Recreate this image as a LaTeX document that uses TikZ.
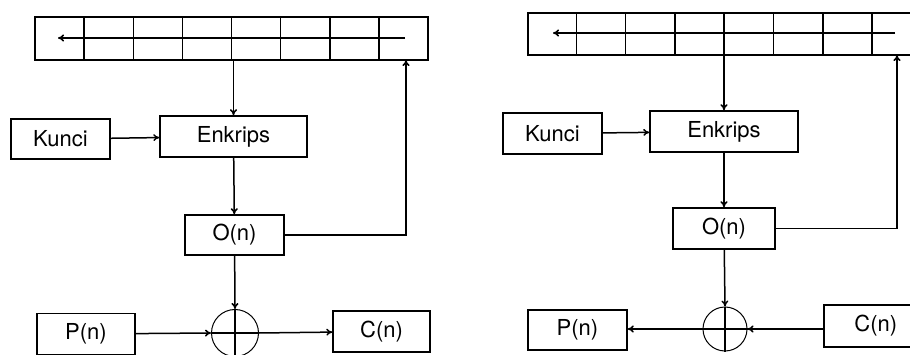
\documentclass[tikz,border=0pt]{standalone}
\usepackage{fontspec}
\setmainfont{TeX Gyre Heros}
\usetikzlibrary{arrows.meta}

\begin{document}
\begin{tikzpicture}[x=1pt,y=-1pt,line width=1.5pt,
    >={To[length=6pt,width=7pt]},
    box/.style={draw,black,rectangle,inner sep=0pt,font=\fontsize{22}{26}\selectfont},
    xorop/.style={draw,black,circle,line width=1pt,minimum size=47pt,inner sep=0pt}]
      \clip (0,0) rectangle (910,355);
      % mode kiri
      \node [box,minimum width=393pt,minimum height=43pt] (reg1) at (231.5,38.5) {};
      \foreach \i in {1,...,7}
        \draw [-,black] (35+\i*49.125,17) -- (35+\i*49.125,60);
      \coordinate (in1) at (405,38);
      \coordinate (out1) at (58,38);
      \draw [->,black] (in1) -- (out1);
      \node [box,minimum width=99pt,minimum height=40pt] (kunci1) at (60.5,139) {Kunci};
      \node [box,minimum width=147pt,minimum height=41pt] (enk1) at (233.5,136.5) {Enkrips};
      \node [box,minimum width=99pt,minimum height=40pt] (on1) at (234.5,235) {O(n)};
      \node [xorop] (xor1) at (235,333) {};
      \node [box,minimum width=98pt,minimum height=41pt] (pn1) at (86,334) {P(n)};
      \node [box,minimum width=97pt,minimum height=41pt] (cn1) at (381.5,331.5) {C(n)};
      \coordinate (fb1) at (406,60);
      \draw [->,black] (reg1.south -| enk1.north) -- (enk1.north);
      \draw [->,black] (kunci1) -- (enk1);
      \draw [->,black] (enk1) -- (on1);
      \draw [->,black] (on1.east) -| (fb1);
      \draw [->,black] (on1) -- (xor1.north);
      \draw [-,black] (xor1.north) -- (xor1.south);
      \draw [->,black] (pn1) -- (xor1.west);
      \draw [-,black] (xor1.west) -- (xor1.east);
      \draw [->,black] (xor1.east) -- (cn1);
      % mode kanan
      \node [box,minimum width=394pt,minimum height=42pt,anchor=west] (reg2) at (527,34) {};
      \foreach \i in {1,...,7}
        \draw [-,black] (527+\i*49.3,13) -- (527+\i*49.3,55);
      \coordinate (in2) at (895,33);
      \coordinate (out2) at (553,33);
      \draw [->,black] (in2) -- (out2);
      \node [box,minimum width=99pt,minimum height=41pt] (kunci2) at (552.5,133.5) {Kunci};
      \node [box,minimum width=148pt,minimum height=41pt] (enk2) at (724,131.5) {Enkrips};
      \node [box,minimum width=102pt,minimum height=41pt] (on2) at (724,228.5) {O(n)};
      \node [xorop,minimum size=44pt] (xor2) at (725,329) {};
      \node [box,minimum width=99pt,minimum height=40pt] (pn2) at (577.5,330) {P(n)};
      \node [box,minimum width=104pt,minimum height=42pt,anchor=west] (cn2) at (823,326) {C(n)};
      \coordinate (fb2) at (897,55);
      \draw [->,black] (enk2.north |- reg2.south) -- (enk2.north);
      \draw [->,black] (kunci2) -- (enk2);
      \draw [->,black] (enk2) -- (on2);
      \draw [->,black] (on2.east) -| (fb2);
      \draw [->,black] (on2) -- (xor2.north);
      \draw [-,black] (xor2.north) -- (xor2.south);
      \draw [->,black] (cn2.west |- xor2.east) -- (xor2.east);
      \draw [->,black] (xor2.east) -- (pn2.east |- xor2.east);
\end{tikzpicture}
\end{document}
